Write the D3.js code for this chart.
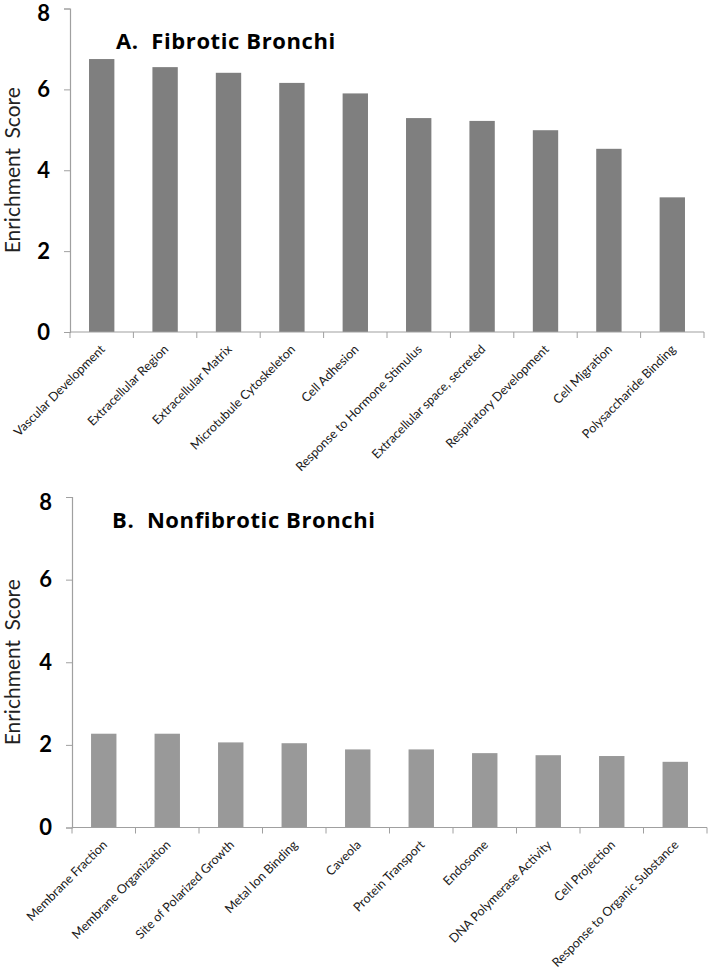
<!DOCTYPE html>
<html><head><meta charset="utf-8">
<script src="https://cdn.jsdelivr.net/npm/d3@7"></script>
<style>body{margin:0;background:#fff}svg{display:block}</style>
</head><body><svg id="c" width="708" height="973"></svg>
<script>
const fibroticCategories = ["Vascular Development","Extracellular Region","Extracellular Matrix","Microtubule Cytoskeleton","Cell Adhesion","Response to Hormone Stimulus","Extracellular space, secreted","Respiratory Development","Cell Migration","Polysaccharide Binding"];
const fibroticValues = [6.75,6.55,6.41,6.16,5.9,5.29,5.22,4.99,4.53,3.33];
const nonfibroticCategories = ["Membrane Fraction","Membrane Organization","Site of Polarized Growth","Metal Ion Binding","Caveola","Protein Transport","Endosome","DNA Polymerase Activity","Cell Projection","Response to Organic Substance"];
const nonfibroticValues = [2.27,2.27,2.06,2.04,1.89,1.89,1.80,1.75,1.73,1.59];
const yTicks = [0,2,4,6,8];
const yTitle = "Enrichment Score";
const titles = ["A.  Fibrotic Bronchi","B.  Nonfibrotic Bronchi"];

const svg = d3.select("#c");

function panel(cats, vals, opt){
  const g = svg.append("g");
  const x = d3.scaleBand().domain(cats).range([opt.x0,opt.x1]).paddingInner(0.6).paddingOuter(0.3);
  const y = d3.scaleLinear().domain([0,8]).range([opt.y0,opt.y1]);
  g.selectAll("rect").data(vals).enter().append("rect")
    .attr("x",(d,i)=>x(cats[i])).attr("width",x.bandwidth())
    .attr("y",d=>y(d)).attr("height",d=>y(0)-y(d)).attr("fill",opt.color);
  const ya = g.append("g").attr("transform",`translate(${opt.x0},0)`)
    .call(d3.axisLeft(y).tickValues(yTicks).tickSize(6).tickPadding(14).tickFormat(d3.format("d")));
  ya.select(".domain").attr("stroke","#a0a0a0").attr("stroke-width",1.2);
  ya.selectAll(".tick line").attr("stroke","#a0a0a0");
  ya.selectAll(".tick text").style("font-size","22px").style("font-weight","bold").style("font-family","Lato").attr("fill","#000")
    .attr("dy", d => d===8 ? "0.55em" : "0.32em");
  const xa = g.append("g").attr("transform",`translate(0,${opt.y0})`);
  xa.append("line").attr("x1",opt.x0).attr("x2",opt.x1).attr("stroke","#a0a0a0").attr("stroke-width",1.2);
  const step = x.step();
  const bounds = cats.map(c=>x(c) - x.paddingInner()*step/2).concat([opt.x1]);
  bounds[0]=opt.x0;
  xa.selectAll("line.t").data(bounds).enter().append("line").attr("class","t")
    .attr("x1",d=>d).attr("x2",d=>d).attr("y1",0).attr("y2",6).attr("stroke","#a0a0a0");
  xa.selectAll("text").data(cats).enter().append("text")
    .attr("transform",d=>`translate(${x(d)+x.bandwidth()/2+1},${15}) rotate(-45)`)
    .attr("text-anchor","end").attr("dy","0.35em").style("font-size","12.5px").style("font-family","Lato").attr("fill","#1a1a1a").text(d=>d);
  g.append("text").attr("transform",`translate(13,${(opt.y0+opt.y1)/2}) rotate(-90)`)
    .attr("text-anchor","middle").attr("dy","0.35em").style("font-size","21px").style("font-family","Lato").attr("fill","#222")
    .style("word-spacing","4px").text(yTitle);
  g.append("text").attr("x",opt.tx).attr("y",opt.ty).style("font-size","22px").style("font-weight","bold")
    .style("font-family","'Open Sans'").style("letter-spacing","0.6px")
    .attr("fill","#000").style("white-space","pre").text(opt.title);
}

panel(fibroticCategories, fibroticValues, {x0:70,x1:704,y0:332,y1:8.5,color:"#7f7f7f",title:titles[0],tx:116,ty:49});
panel(nonfibroticCategories, nonfibroticValues, {x0:72,x1:707,y0:827.5,y1:497,color:"#999999",title:titles[1],tx:112,ty:528});
</script></body></html>
